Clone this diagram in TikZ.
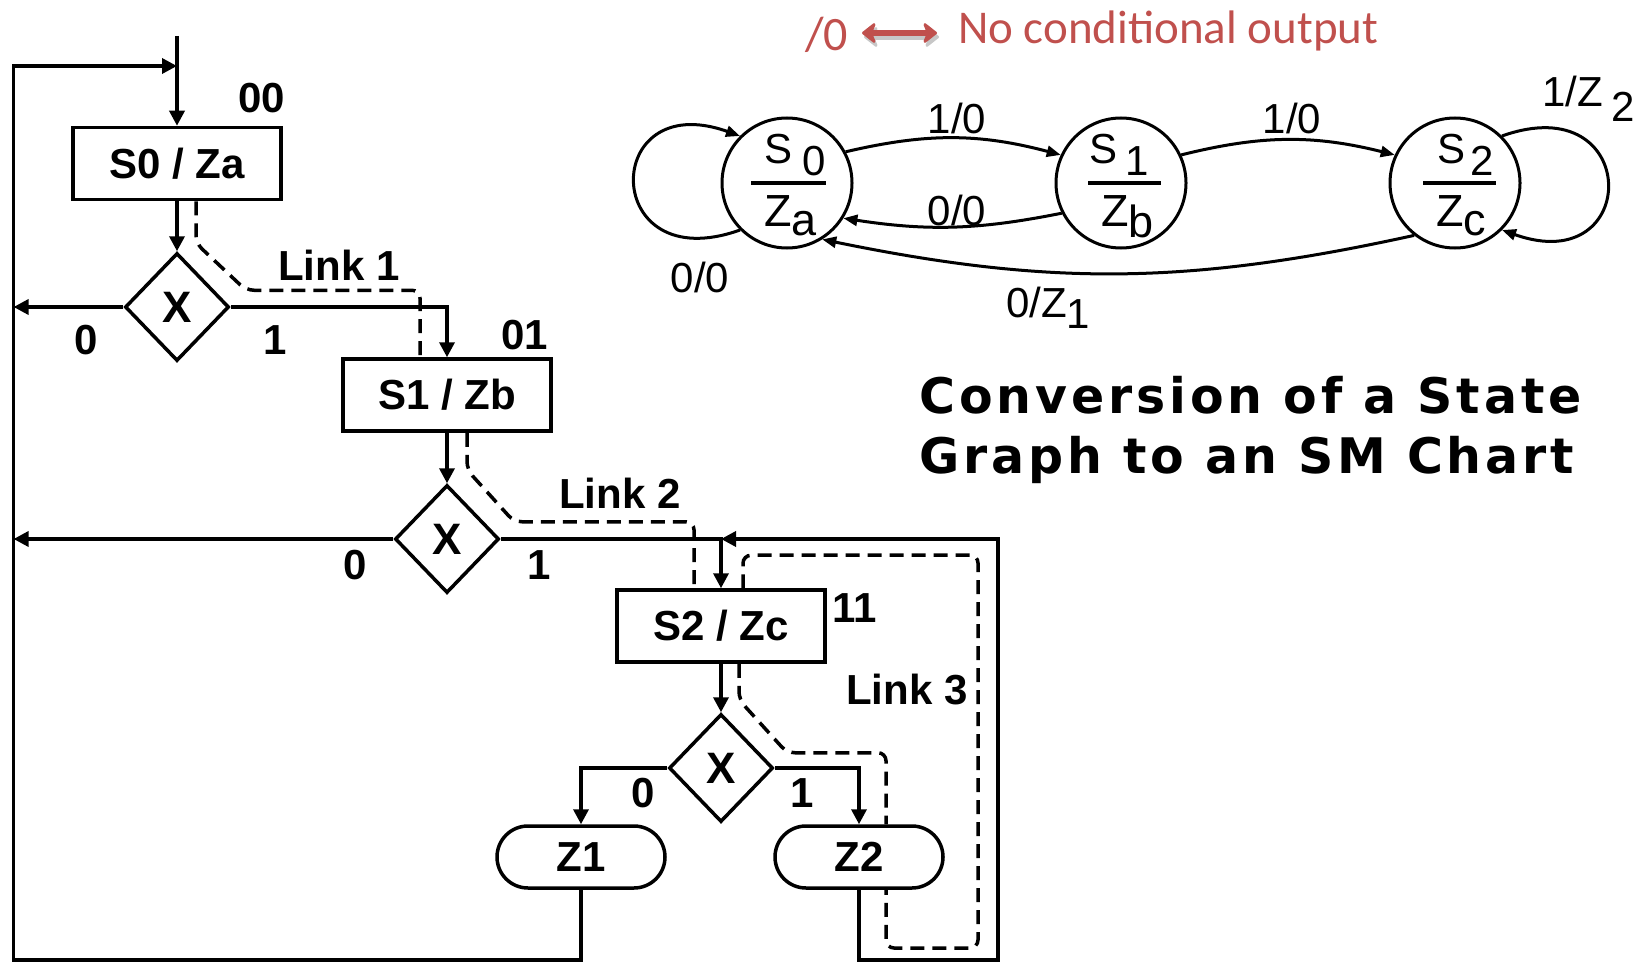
\documentclass[tikz,border=0pt]{standalone}
\usepackage{fontspec}
\setmainfont{Liberation Sans}
\newfontfamily\redfont{Carlito}
\newfontfamily\titlefont[LetterSpace=8]{DejaVu Sans}
\usetikzlibrary{arrows.meta,shapes.geometric}
\definecolor{redc}{HTML}{C0504D}
\begin{document}
\begin{tikzpicture}[x=1pt,y=-1pt,
  fl/.style={line width=3.5pt},
  flarr/.style={fl,-{Triangle[length=15pt,width=15pt]}},
  lnk/.style={line width=3.5pt,dash pattern=on 14pt off 8pt,rounded corners=8pt},
  sbox/.style={draw,line width=3.5pt,minimum width=208pt,minimum height=72pt,inner sep=0pt,font=\fontsize{42}{42}\selectfont\bfseries},
  dec/.style={draw,diamond,line width=3.5pt,minimum width=104pt,minimum height=108pt,inner sep=0pt,font=\fontsize{44}{44}\selectfont\bfseries},
  oval/.style={draw,rectangle,rounded corners=31pt,line width=3.5pt,minimum width=168pt,minimum height=62pt,inner sep=0pt,font=\fontsize{42}{42}\selectfont\bfseries},
  lbl/.style={inner sep=0pt,font=\fontsize{42}{42}\selectfont\bfseries},
  stc/.style={draw,circle,line width=3pt,minimum size=130pt,inner sep=0pt},
  gtxt/.style={inner sep=0pt,font=\fontsize{42}{42}\selectfont},
  garr/.style={line width=3pt,-{Triangle[length=14pt,width=11pt]}},
  redtxt/.style={inner sep=0pt,text=redc,font=\redfont\fontsize{47}{47}\selectfont},
  redarr/.style={line width=6pt,{Stealth[length=16pt,width=25pt,inset=5pt,round]}-{Stealth[length=16pt,width=25pt,inset=5pt,round]}},
  ttl/.style={inner sep=0pt,font=\titlefont\bfseries\fontsize{49}{49}\selectfont}
]
\useasboundingbox (0,0) rectangle (1641,963);

% ---------------- SM chart ----------------
\coordinate (top) at (177,36);
\coordinate (fb) at (177,66);
\coordinate (Lx) at (13.6,0);
\coordinate (bl) at (13.6,960);
\coordinate (br) at (998,960);
\coordinate (rj) at (721,539);

\node[sbox] (b0) at (177,163.5) {S0 / Za};
\node[dec]  (d0) at (177,307) {X};
\node[sbox] (b1) at (447,395) {S1 / Zb};
\node[dec]  (d1) at (447,539) {X};
\node[sbox] (b2) at (721,626) {S2 / Zc};
\node[dec]  (d2) at (721,768) {X};
\node[oval] (z1) at (581,857) {Z1};
\node[oval] (z2) at (859,857) {Z2};

\draw[flarr] (top) -- (b0.north);
\draw[flarr] (b0.south) -- (d0.north);
\draw[flarr] (d0.west) -- (d0.west -| Lx);
\draw[flarr] (d0.east) -| (b1.north);
\draw[flarr] (b1.south) -- (d1.north);
\draw[flarr] (d1.west) -- (d1.west -| Lx);
\draw[flarr] (d1.east) -| (b2.north);
\draw[flarr] (b2.south) -- (d2.north);
\draw[flarr] (d2.west) -| (z1.north);
\draw[flarr] (d2.east) -| (z2.north);
\draw[flarr] (z1.south) -- (z1.south |- bl) -- (bl) |- (fb);
\draw[flarr] (z2.south) -- (z2.south |- br) -- (br) |- (rj);

% links
\draw[lnk] ([xshift=19pt]b0.south) -- ++(0,42) -- ++(50,47) -| ([xshift=-27pt]b1.north);
\draw[lnk] ([xshift=20pt]b1.south) -- ++(0,37) -- ++(47,52) -| ([xshift=-27pt]b2.north);
\draw[lnk] ([xshift=22pt]b2.north) -- ++(0,-33) -- (978,555) -- (978,948) -- (886,948) -- ([xshift=27pt]z2.south);
\draw[lnk] ([xshift=18pt]b2.south) -- ++(0,36) -- ++(48,53) -| ([xshift=27pt]z2.north);

% labels
\node[lbl] (c00) at (262,98) {00};
\node[lbl] (c01) at (525,335) {01};
\node[lbl] (c11) at (855,608) {11};
\node[lbl] (l0a) at (86,340) {0};
\node[lbl] (l1a) at (275,340) {1};
\node[lbl] (l0b) at (355,565) {0};
\node[lbl] (l1b) at (539,565) {1};
\node[lbl] (l0c) at (643,793) {0};
\node[lbl] (l1c) at (802,793) {1};
\node[lbl] (k1) at (339,265) {Link 1};
\node[lbl] (k2) at (620,493) {Link 2};
\node[lbl] (k3) at (907,690) {Link 3};

% ---------------- State graph ----------------
\node[stc] (s0) at (787,183) {};
\node[stc] (s1) at (1121,183) {};
\node[stc] (s2) at (1455,183) {};

\node[gtxt,anchor=base west] (s0t) at (764,164) {S\hspace{10pt}\raisebox{-12pt}{0}};
\node[gtxt,anchor=base west] (s1t) at (1089,164) {S\hspace{8pt}\raisebox{-12pt}{1}};
\node[gtxt,anchor=base west] (s2t) at (1437,164) {S\hspace{5pt}\raisebox{-12pt}{2}};
\node[gtxt,anchor=base west] (s0b) at (764,226) {\fontsize{45}{45}\selectfont Z\raisebox{-9pt}{a}};
\node[gtxt,anchor=base west] (s1b) at (1101,226) {\fontsize{45}{45}\selectfont Z\raisebox{-11pt}{b}};
\node[gtxt,anchor=base west] (s2b) at (1436,226) {\fontsize{45}{45}\selectfont Z\raisebox{-9pt}{c}};
\draw[line width=3.5pt] ([xshift=-36pt]s0.center) -- ([xshift=39pt]s0.center);
\draw[line width=3.5pt] ([xshift=-33pt]s1.center) -- ([xshift=40pt]s1.center);
\draw[line width=3.5pt] ([xshift=-32pt]s2.center) -- ([xshift=41pt]s2.center);

\draw[garr] (s0.225) .. controls +(-140,50) and +(-140,-50) .. (s0.135);
\draw[garr] (s2.45) .. controls +(140,-50) and +(140,50) .. (s2.-45);
\draw[garr] (s0.28) to[bend left=14] (s1.155);
\draw[garr] (s1.25) to[bend left=14] (s2.155);
\draw[garr] (s1.207) to[bend left=10] (s0.-32);
\draw[garr] (s2.232) to[bend left=12] (s0.-58);

\node[gtxt] (e1) at (957,118) {1/0};
\node[gtxt] (e2) at (1292,118) {1/0};
\node[gtxt] (e3) at (957,210) {0/0};
\node[gtxt] (e4) at (700,277) {0/0};
\node[gtxt,anchor=base west] (e5) at (1006,317) {0/Z\raisebox{-11pt}{1}};
\node[gtxt,anchor=base west] (e6) at (1542,107) {1/Z\hspace{9pt}\raisebox{-15pt}{2}};

% red legend
\node[redtxt,anchor=base west] (r0) at (805,51) {\fontsize{48}{48}\selectfont/0};
\coordinate (ral) at (862,33);
\coordinate (rar) at (937,33);
\draw[black!22,redarr] ([shift={(2,4)}]ral) -- ([shift={(2,4)}]rar);
\draw[redc,redarr] (ral) -- (rar);
\node[redtxt,anchor=base west] (r1) at (958,44) {No conditional output};

% title
\node[ttl,anchor=base west] (t1) at (919,413) {Conversion of a State};
\node[ttl,anchor=base west] (t2) at (919,473) {Graph to an SM Chart};
\end{tikzpicture}
\end{document}
